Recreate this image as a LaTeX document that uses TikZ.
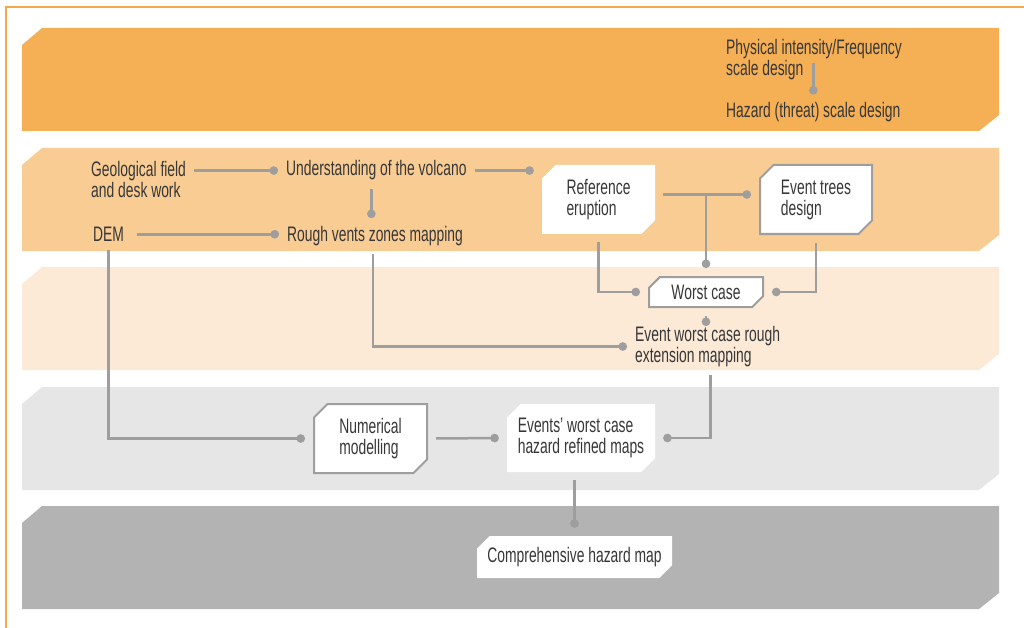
\documentclass[tikz,border=0pt]{standalone}
\usepackage{fontspec}
\setmainfont{Liberation Sans}[FakeStretch=0.66]
\usepackage{tikz}
\usetikzlibrary{arrows.meta,shapes.misc,positioning}
\usepackage{xcolor}
\definecolor{hzframe}{RGB}{245,168,75}
\definecolor{hzbandA}{RGB}{245,175,85}
\definecolor{hzbandB}{RGB}{249,204,148}
\definecolor{hzbandC}{RGB}{252,234,214}
\definecolor{hzbandD}{RGB}{230,230,230}
\definecolor{hzbandE}{RGB}{179,179,179}
\definecolor{hzline}{RGB}{158,158,158}
\definecolor{hztext}{RGB}{55,55,55}
\tikzstyle{note} = [inner sep=0pt, align=left, text=hztext, font=\fontsize{21}{21}\selectfont]
\tikzstyle{card} = [chamfered rectangle, chamfered rectangle corners={north west,south east}, chamfered rectangle xsep=10pt, fill=white, inner sep=0pt, align=left, text=hztext, font=\fontsize{21}{21}\selectfont, minimum width=113pt, minimum height=69pt]
\tikzstyle{cardline} = [card, draw=hzline, line width=2pt]
\tikzstyle{link} = [line width=2.5pt, color=hzline, -{Circle[length=8.5pt,width=8.5pt]}, shorten <=8pt, shorten >=8pt]

\begin{document}
\begin{tikzpicture}[x=1pt,y=-1pt]
\useasboundingbox (0,0) rectangle (1024,628);
\draw[hzframe, line width=1.5pt] (1024,7) -- (6,7) -- (6,628);
\foreach \top/\col in {28/hzbandA, 148/hzbandB, 267/hzbandC, 387/hzbandD, 506/hzbandE}
  \fill[\col] (22,\top+17) -- (42,\top) -- (999,\top) -- (999,\top+87) -- (979,\top+103) -- (22,\top+103) -- cycle;

\node[note, anchor=north west] (phys) at (726,39) {Physical intensity/Frequency\\scale design};
\node[note, anchor=base west] (hazscale) at (726,118) {Hazard (threat) scale design};
\coordinate (physlink) at (812,64);

\node[note, anchor=north west] (geo) at (91,161) {Geological field\\and desk work};
\node[note, anchor=base west] (und) at (286,176) {Understanding of the volcano};
\node[note, anchor=base west] (dem) at (93,241.5) {DEM};
\node[note, anchor=base west] (rough) at (287,241.5) {Rough vents zones mapping};
\node[card] (ref) at (598.5,199.5) {Reference\\eruption};
\node[cardline, minimum width=112pt] (events) at (816,199.5) {Event trees\\design};

\node[cardline, chamfered rectangle xsep=8pt, minimum width=114pt, minimum height=30pt] (worst) at (706,292) {Worst case};
\node[note, anchor=north west] (ext) at (635,326) {Event worst case rough\\extension mapping};

\node[cardline] (num) at (370.5,438.5) {Numerical\\modelling};
\node[card, minimum width=148pt, minimum height=68pt] (refined) at (581,438) {Events' worst case\\hazard refined maps};

\node[card, chamfered rectangle xsep=9pt, minimum width=195pt, minimum height=42pt] (comp) at (574.5,557) {Comprehensive hazard map};

\draw[link, shorten <=0pt] (physlink) -- (hazscale.north |- physlink) -- (hazscale.north);
\draw[link] (und.west -| geo.east) -- (und.west);
\draw[link, shorten <=13pt] (dem.east) -- (dem.east -| rough.west);
\draw[link] ([xshift=-5pt]und.south) -- ([xshift=-5pt]und.south |- rough.north);
\draw[link] (und.east) -- (und.east -| ref.west);
\draw[link] ([yshift=5pt]ref.east) -- ([yshift=5pt]ref.east -| events.west);
\draw[link, shorten <=0pt] ([yshift=5pt]ref.east -| worst.north) -- (worst.north);
\draw[link] (ref.south) |- (worst.west);
\draw[link] (events.south) |- (worst.east);
\draw[link, shorten >=0pt] (worst.south) -- (worst.south |- ext.north);
\draw[link] ([xshift=-2pt]rough.south) |- (ext.west);
\draw[link] ([xshift=3pt]ext.south) |- (refined.east);
\draw[link] (dem.south) |- (num.west);
\draw[link] (num.east) -- (refined.west);
\draw[link] (comp.north |- refined.south) -- (comp.north);
\end{tikzpicture}
\end{document}
